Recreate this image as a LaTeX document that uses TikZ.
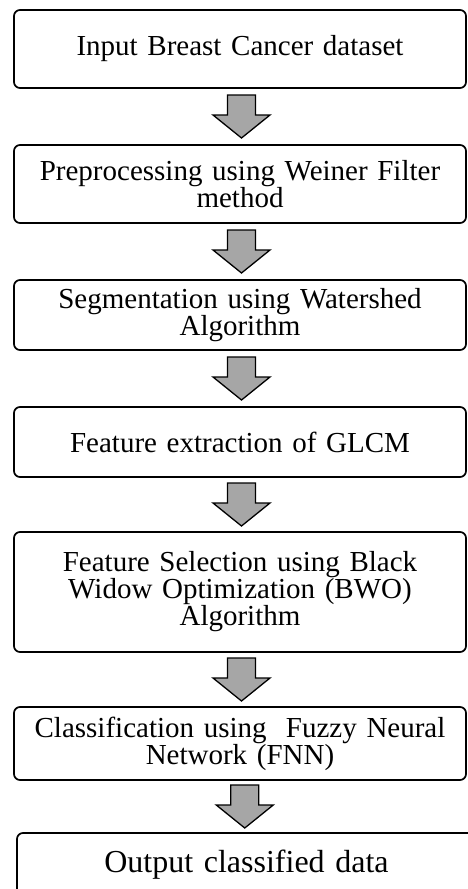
\documentclass[tikz,border=0pt]{standalone}
\usepackage{fontspec}
\setmainfont{Liberation Serif}
\usepackage{tikz}
\usetikzlibrary{calc}

\tikzset{
  stepbox/.style={draw, line width=1.7pt, rounded corners=6pt, minimum width=452pt, text width=430pt, align=center, inner sep=0pt, font=\fontsize{29}{27}\selectfont},
  blockarr/.style={draw, line width=1.3pt, fill=black!35, line join=miter}
}

\begin{document}
\begin{tikzpicture}[x=1pt, y=-1pt]
\useasboundingbox (0,0) rectangle (467,889);
% processing steps
\node[stepbox, minimum height=78pt] (input) at (240,49) {Input Breast Cancer dataset};
\node[stepbox, minimum height=78pt] (prep) at (240,184) {Preprocessing using Weiner Filter\\ method};
\node[stepbox, minimum height=70pt] (seg) at (240,315) {Segmentation using Watershed\\ Algorithm};
\node[stepbox, minimum height=70pt] (feat) at (240,442) {Feature extraction of GLCM};
\node[stepbox, minimum height=120pt] (sel) at (240,592) {Feature Selection using Black\\ Widow Optimization (BWO)\\ Algorithm};
\node[stepbox, minimum height=73pt] (cls) at (240,743.5) {Classification using~ Fuzzy Neural\\ Network (FNN)};

% output (cut off at the page edge)
\node[stepbox, minimum width=459pt, minimum height=64pt, font=\fontsize{32}{30}\selectfont] (out) at (246.5,865) {Output classified data};

% block arrows between steps
\foreach \u/\v/\n in {input/prep/a1, prep/seg/a2, seg/feat/a3, feat/sel/a4, sel/cls/a5, cls/out/a6} {
  \coordinate (\n) at ($(\u.south)!0.5!(\v.north)+(1.5,0)$);
  \draw[blockarr] (\n) ++(-14,-21.5) -- ++(28,0) -- ++(0,20) -- ++(14.5,0) -- ++(-28.5,23) -- ++(-28.5,-23) -- ++(14.5,0) -- cycle;
}
\end{tikzpicture}
\end{document}
